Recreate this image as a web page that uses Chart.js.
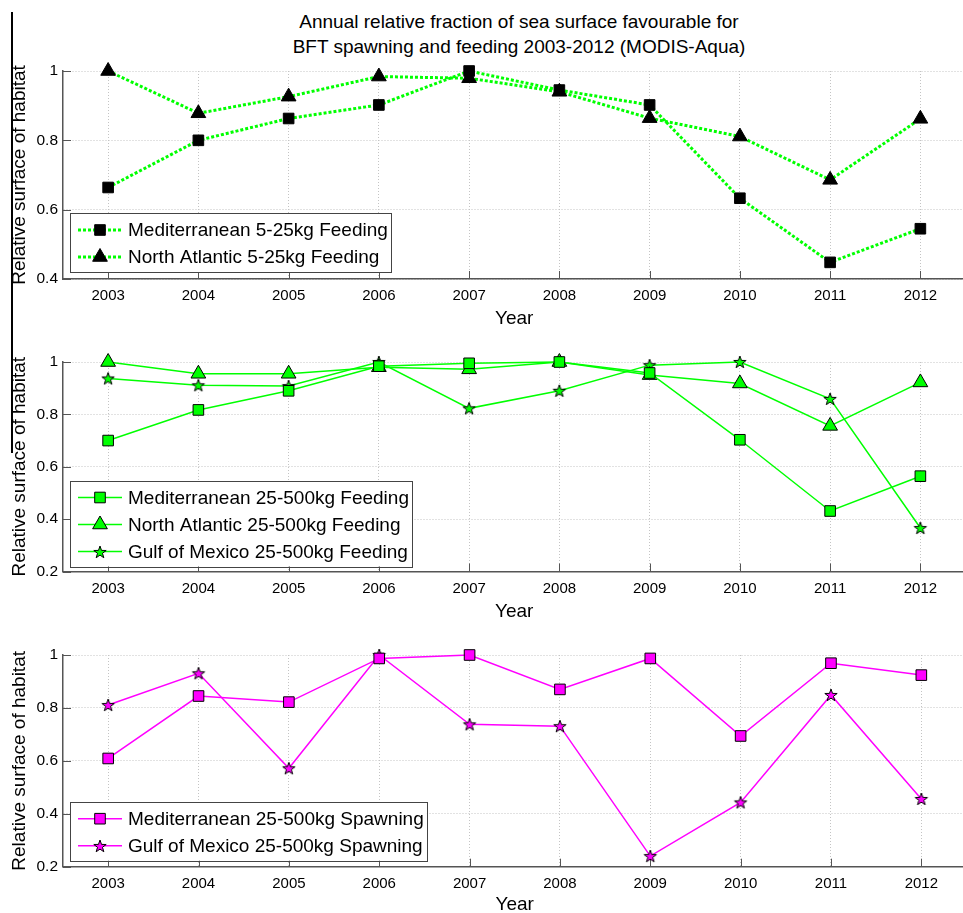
<!DOCTYPE html>
<html>
<head>
<meta charset="utf-8">
<script src="https://cdn.jsdelivr.net/npm/chart.js@4.4.1/dist/chart.umd.min.js"></script>
<style>
  html, body { margin: 0; padding: 0; background: #fff; }
  #wrap { position: relative; width: 963px; height: 913px; overflow: hidden; background: #fff; }
  canvas { position: absolute; left: 0; }
  #title { position: absolute; left: 219px; width: 600px; top: 9px; text-align: center;
           font: 19px "Liberation Sans", Arial, sans-serif; line-height: 25px; color: #000; }
  #edge { position: absolute; left: 11px; top: 12px; width: 1.5px; height: 441px; background: #000; }
</style>
</head>
<body>
<div id="wrap">
  <div id="edge"></div>
  <div id="title">Annual relative fraction of sea surface favourable for<br>BFT spawning and feeding 2003-2012 (MODIS-Aqua)</div>
  <canvas id="c1" width="975" height="330" style="top:0px;width:975px;height:330px"></canvas>
  <canvas id="c2" width="975" height="293" style="top:330px;width:975px;height:293px"></canvas>
  <canvas id="c3" width="975" height="293" style="top:623px;width:975px;height:293px"></canvas>
</div>
<script>
// ---- data ----
const years = ['2003','2004','2005','2006','2007','2008','2009','2010','2011','2012'];

const med525Feeding    = [0.664, 0.800, 0.863, 0.902, 1.000, 0.945, 0.902, 0.633, 0.448, 0.545];
const natl525Feeding   = [1.000, 0.878, 0.926, 0.984, 0.979, 0.940, 0.864, 0.811, 0.686, 0.862];

const med25500Feeding  = [0.700, 0.817, 0.890, 0.984, 0.995, 1.000, 0.958, 0.703, 0.431, 0.564];
const natl25500Feeding = [1.000, 0.955, 0.955, 0.980, 0.972, 1.000, 0.950, 0.918, 0.756, 0.922];
const gom25500Feeding  = [0.937, 0.911, 0.908, 1.000, 0.823, 0.890, 0.988, 1.000, 0.859, 0.366];

const med25500Spawning = [0.609, 0.845, 0.822, 0.987, 1.000, 0.870, 0.987, 0.694, 0.969, 0.924];
const gom25500Spawning = [0.811, 0.931, 0.572, 1.000, 0.738, 0.731, 0.240, 0.443, 0.849, 0.456];

const yRange1 = [0.4, 1.0];
const yRange2 = [0.2, 1.0];
const yRange3 = [0.2, 1.0];
const yStep = 0.2;

const xTitle = 'Year';
const yTitle = 'Relative surface of habitat';

// ---- styling helpers ----
const FONT = '"Liberation Sans", Arial, Helvetica, sans-serif';
Chart.defaults.font.family = FONT;
Chart.defaults.color = '#000';

const GREEN = '#00ff00';
const MAGENTA = '#ff00ff';
const AXIS = '#555555';
const GRID = '#c4c4c4';

function starImage(fill, r) {
  const s = Math.ceil(r * 2 + 3);
  const c = document.createElement('canvas');
  c.width = s; c.height = s;
  const g = c.getContext('2d');
  const cx = s / 2, cy = s / 2 + 0.5, ri = r * 0.4;
  g.beginPath();
  for (let i = 0; i < 10; i++) {
    const rr = i % 2 ? ri : r;
    const a = -Math.PI / 2 + i * Math.PI / 5;
    g.lineTo(cx + rr * Math.cos(a), cy + rr * Math.sin(a));
  }
  g.closePath();
  g.fillStyle = fill; g.fill();
  g.lineWidth = 1; g.strokeStyle = '#000'; g.stroke();
  return c;
}

function series(label, data, color, style, opts) {
  return Object.assign({
    label, data,
    borderColor: color,
    borderWidth: 1.5,
    pointStyle: style,
    pointRadius: style === 'triangle' ? 8.5 : 7.5,
    pointBackgroundColor: color,
    pointBorderColor: '#000',
    pointBorderWidth: 1,
    tension: 0,
    fill: false,
    clip: false
  }, opts || {});
}

function drawMarker(ctx, ds, x, y) {
  const st = ds.pointStyle;
  ctx.save();
  if (st instanceof HTMLCanvasElement) {
    ctx.drawImage(st, Math.round(x - st.width / 2), Math.round(y - st.height / 2));
  } else {
    ctx.fillStyle = ds.pointBackgroundColor;
    ctx.strokeStyle = ds.pointBorderColor;
    ctx.lineWidth = ds.pointBorderWidth;
    Chart.helpers.drawPoint(ctx, {pointStyle: st, radius: ds.pointRadius, rotation: 0, borderWidth: ds.pointBorderWidth}, x, y);
  }
  ctx.restore();
}

const boxLegend = {
  id: 'boxLegend',
  afterDatasetsDraw(chart) {
    const {ctx, chartArea: a} = chart;
    const dss = chart.data.datasets;
    const lopt = chart.options.plugins.boxLegend;
    ctx.save();
    ctx.font = '19px ' + FONT;
    let maxW = 0;
    dss.forEach(d => { maxW = Math.max(maxW, ctx.measureText(d.label).width); });
    const rowH = 27;
    const h = 17 + (dss.length - 1) * rowH + 15;
    const w = 58 + maxW + 3;
    const left = a.left + 7;
    const top = a.bottom - lopt.bottomGap - h;
    ctx.fillStyle = '#fff';
    ctx.fillRect(left, top, w, h);
    ctx.strokeStyle = '#444';
    ctx.lineWidth = 1;
    ctx.strokeRect(Math.round(left) + 0.5, Math.round(top) + 0.5, Math.round(w), Math.round(h));
    dss.forEach((d, i) => {
      const cy = top + 17 + i * rowH;
      ctx.save();
      ctx.strokeStyle = d.borderColor;
      ctx.lineWidth = d.borderWidth;
      ctx.setLineDash(d.borderDash || []);
      ctx.beginPath();
      ctx.moveTo(left + 8, cy);
      ctx.lineTo(left + 52, cy);
      ctx.stroke();
      ctx.restore();
      drawMarker(ctx, d, left + 30, cy);
      ctx.fillStyle = '#000';
      ctx.textBaseline = 'middle';
      ctx.textAlign = 'left';
      ctx.fillText(d.label, left + 58, cy + 1);
    });
    ctx.restore();
  }
};

const inwardTicks = {
  id: 'inwardTicks',
  beforeDatasetsDraw(chart) {
    const {ctx, chartArea: a, scales} = chart;
    ctx.save();
    ctx.strokeStyle = AXIS;
    ctx.lineWidth = 1;
    ctx.beginPath();
    scales.x.ticks.forEach((t, i) => {
      const px = Math.round(scales.x.getPixelForTick(i)) + 0.5;
      ctx.moveTo(px, a.bottom); ctx.lineTo(px, a.bottom - 8);
    });
    scales.y.ticks.forEach((t, i) => {
      const py = Math.round(scales.y.getPixelForTick(i)) + 0.5;
      ctx.moveTo(a.left, py); ctx.lineTo(a.left + 8, py);
    });
    ctx.stroke();
    ctx.restore();
  }
};

function makeChart(id, datasets, yRange, padTop, xAxisH, bottomGap) {
  return new Chart(document.getElementById(id), {
    type: 'line',
    data: { labels: years, datasets },
    plugins: [inwardTicks, boxLegend],
    options: {
      responsive: false,
      animation: false,
      devicePixelRatio: 1,
      events: [],
      layout: { padding: { top: padTop, right: 0, left: 0, bottom: 0 } },
      plugins: {
        legend: { display: false },
        tooltip: { enabled: false },
        title: { display: false },
        boxLegend: { bottomGap }
      },
      scales: {
        x: {
          type: 'category',
          offset: true,
          grid: { display: true, offset: false, color: GRID, lineWidth: 1, drawTicks: false },
          border: { display: true, color: AXIS, width: 1.5, dash: [1, 2] },
          ticks: { font: { size: 15 }, color: '#000', padding: 8, maxRotation: 0, autoSkip: false },
          title: { display: true, text: xTitle, font: { size: 19 }, color: '#000', padding: { top: 0, bottom: 0 } },
          afterFit(scale) { scale.height = xAxisH; }
        },
        y: {
          type: 'linear',
          min: yRange[0],
          max: yRange[1],
          grid: { display: true, color: GRID, lineWidth: 1, drawTicks: false },
          border: { display: true, color: AXIS, width: 1.5, dash: [1, 2] },
          ticks: {
            stepSize: yStep, font: { size: 15.5 }, color: '#000', padding: 5,
            callback: v => String(parseFloat(Number(v).toFixed(1)))
          },
          title: { display: true, text: yTitle, font: { size: 19 }, color: '#000', padding: { top: 8, bottom: 0 } },
          afterFit(scale) { scale.width = 63; }
        }
      }
    }
  });
}

// Panel 1
makeChart('c1', [
  series('Mediterranean 5-25kg Feeding', med525Feeding, GREEN, 'rect',
    { borderWidth: 3, borderDash: [3, 2], pointBackgroundColor: '#000' }),
  series('North Atlantic 5-25kg Feeding', natl525Feeding, GREEN, 'triangle',
    { borderWidth: 3, borderDash: [3, 2], pointBackgroundColor: '#000' })
], yRange1, 71, 51, 7);

// Panel 2
makeChart('c2', [
  series('Mediterranean 25-500kg Feeding', med25500Feeding, GREEN, 'rect'),
  series('North Atlantic 25-500kg Feeding', natl25500Feeding, GREEN, 'triangle'),
  series('Gulf of Mexico 25-500kg Feeding', gom25500Feeding, GREEN, starImage(GREEN, 6.5))
], yRange2, 32, 51.5, 5);

// Panel 3
makeChart('c3', [
  series('Mediterranean 25-500kg Spawning', med25500Spawning, MAGENTA, 'rect'),
  series('Gulf of Mexico 25-500kg Spawning', gom25500Spawning, MAGENTA, starImage(MAGENTA, 6.5))
], yRange3, 32, 49.3, 6);
</script>
</body>
</html>
